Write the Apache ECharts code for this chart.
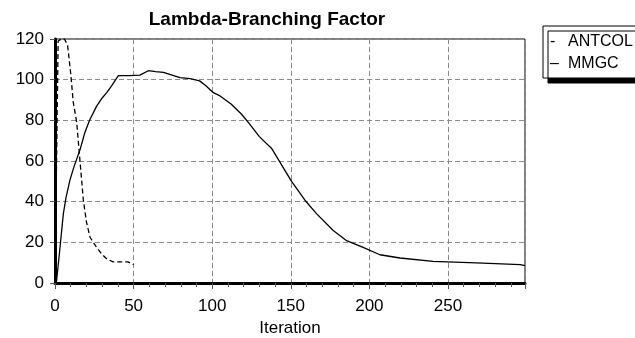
<!DOCTYPE html>
<html>
<head>
<meta charset="utf-8">
<script src="https://cdn.jsdelivr.net/npm/echarts/dist/echarts.min.js"></script>
<style>
  html, body { margin: 0; padding: 0; background: #fff; }
  #chart { width: 635px; height: 338px; }
</style>
</head>
<body>
<div id="chart"></div>
<script>
  // ANTCOL (dashed) - only runs to iteration 50
  const antcolIter = [0, 1, 2, 4, 6, 8, 10, 11.6, 13.8, 15.9, 18, 20, 22.3, 26.5, 30, 33, 37, 42, 46.5, 50]
  const antcolValue = [0, 60, 119, 120, 120, 117, 103, 89, 79, 60, 41, 30, 22.5, 17.5, 14, 11.8, 10.4, 10.4, 10.4, 9]
  // MMGC (solid)
  const mmgcIter = [1, 3, 5.3, 7, 9.5, 12, 15.9, 19, 22, 26.5, 30, 32.9, 36, 40.3, 47, 54, 59.4, 64, 69, 79.5, 86, 92, 96, 100.7, 105, 112, 118.7, 124, 130, 138, 145, 150.5, 159, 166.5, 177, 185.5, 196, 206.7, 219.5, 240.5, 268, 296, 299]
  const mmgcValue = [1, 16, 34, 42, 50.6, 57, 65.5, 74, 80, 87, 91, 93.6, 97, 102, 102, 102.2, 104.4, 104, 103.6, 101, 100.5, 99.4, 97, 93.6, 92, 88, 83, 78, 72, 66, 57, 50, 40.7, 34, 25.8, 20.8, 17.5, 13.9, 12.3, 10.6, 9.9, 9, 8.5]
  const seriesNames = ['ANTCOL', 'MMGC']
  const legendMarks = { ANTCOL: '-', MMGC: '–' }
  const xMax = 299
  const yMax = 120

  const pairs = (xs, ys) => xs.map((x, i) => [x, ys[i]])

  const myChart = echarts.init(document.getElementById('chart'))
  const font = 'Liberation Sans, Arial, sans-serif'
  const gridLine = {
    show: true,
    lineStyle: { color: '#8c8c8c', type: [5, 3], width: 1 },
  }

  const option = {
    animation: false,
    backgroundColor: '#fff',
    title: {
      text: 'Lambda-Branching Factor',
      left: 262,
      top: 5,
      textAlign: 'center',
      textStyle: { fontFamily: font, fontSize: 19, fontWeight: 'bold', color: '#000' },
    },
    // legend box runs off the right edge like in the original
    legend: {
      orient: 'vertical',
      right: -18,
      top: 26,
      padding: [7, 5, 6, 2],
      itemGap: 5,
      icon: 'none',
      itemWidth: 0,
      itemHeight: 18,
      data: seriesNames,
      formatter: name => '{m|' + legendMarks[name] + '}{n|' + name + '}',
      backgroundColor: '#fff',
      borderColor: '#000',
      borderWidth: 1,
      shadowColor: '#000',
      shadowBlur: 0,
      shadowOffsetX: 5,
      shadowOffsetY: 5,
      textStyle: {
        fontFamily: font,
        fontSize: 16,
        color: '#000',
        rich: {
          m: { fontFamily: font, fontSize: 16, color: '#000', width: 18, lineHeight: 18 },
          n: { fontFamily: font, fontSize: 16, color: '#000', width: 80, lineHeight: 18 },
        },
      },
    },
    grid: {
      left: 55,
      right: 110,
      top: 39,
      bottom: 55,
      outerBoundsMode: 'none',
      show: true,
      borderColor: '#000',
      borderWidth: 1,
    },
    xAxis: {
      type: 'value',
      min: 0,
      max: xMax,
      interval: 50,
      name: 'Iteration',
      nameLocation: 'middle',
      nameGap: 34,
      nameTextStyle: { fontFamily: font, fontSize: 17, color: '#000' },
      axisLine: { show: true, lineStyle: { color: '#000', width: 3 } },
      axisTick: { show: true, length: 6, lineStyle: { color: '#555' } },
      minorTick: { show: true, splitNumber: 5, length: 4, lineStyle: { color: '#555' } },
      axisLabel: { fontFamily: font, fontSize: 17, color: '#000', margin: 15, showMaxLabel: false },
      splitLine: gridLine,
    },
    yAxis: {
      type: 'value',
      min: 0,
      max: yMax,
      interval: 20,
      axisLine: { show: true, lineStyle: { color: '#000', width: 3 } },
      axisTick: { show: true, length: 5, lineStyle: { color: '#555' } },
      axisLabel: { fontFamily: font, fontSize: 17, color: '#000', margin: 11 },
      splitLine: gridLine,
    },
    series: [
      {
        name: 'ANTCOL',
        type: 'line',
        showSymbol: false,
        data: pairs(antcolIter, antcolValue),
        lineStyle: { color: '#000', width: 1.3, type: [5, 3] },
        itemStyle: { color: '#000' },
      },
      {
        name: 'MMGC',
        type: 'line',
        showSymbol: false,
        data: pairs(mmgcIter, mmgcValue),
        lineStyle: { color: '#000', width: 1.3 },
        itemStyle: { color: '#000' },
      },
    ],
  }

  option && myChart.setOption(option)
</script>
</body>
</html>
